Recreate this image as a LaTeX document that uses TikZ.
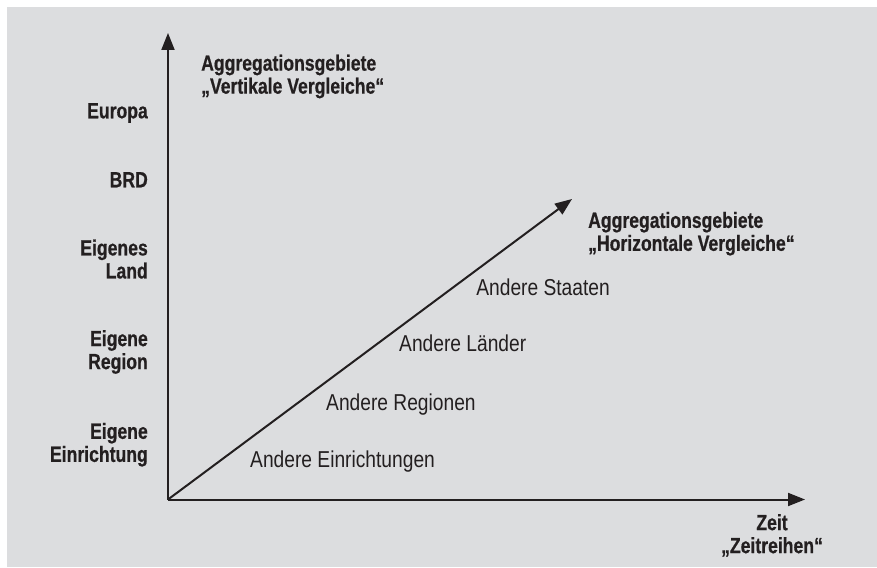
\documentclass[tikz,border=0pt]{standalone}
\usepackage{fontspec}
\setmainfont{Liberation Sans}[FakeStretch=0.835]
\newfontfamily\lblbold{Liberation Sans}[FakeStretch=0.80,BoldFeatures={FakeBold=0.6}]
\usetikzlibrary{arrows.meta}
\definecolor{bg}{HTML}{DCDDDF}
\definecolor{ink}{HTML}{231F20}
\begin{document}
\begin{tikzpicture}[x=1pt,y=-1pt,
  axis/.style={draw=ink,line width=2pt,-{Triangle[length=17pt,width=13pt]}},
  boldlbl/.style={inner sep=0pt,text=ink,font=\lblbold\fontsize{22}{23}\selectfont\bfseries},
  reglbl/.style={inner sep=0pt,text=ink,font=\fontsize{23}{24}\selectfont}]
\useasboundingbox (0,0) rectangle (877,567);
\fill[bg] (7,7) rectangle (877,567);
\coordinate (O) at (168,499.5);
\coordinate (Ytip) at (168,33);
\coordinate (Xtip) at (805,499.5);
\coordinate (Dtip) at (572,199);
\draw[axis] (O) -- (Ytip);
\draw[axis] (O) -- (Xtip);
\draw[axis] (O) -- (Dtip);
% vertical axis labels
\node[boldlbl,anchor=north west,align=left] (vtitle) at (201,54.5) {Aggregationsgebiete\\„Vertikale Vergleiche“};
\node[boldlbl,anchor=base east] (eu) at (148,118.3) {Europa};
\node[boldlbl,anchor=base east] (brd) at (148,187.3) {BRD};
\node[boldlbl,anchor=north east,align=right] (land) at (148,239.3) {Eigenes\\Land};
\node[boldlbl,anchor=north east,align=right] (reg) at (148,330) {Eigene\\Region};
\node[boldlbl,anchor=north east,align=right] (einr) at (148,422.7) {Eigene\\Einrichtung};
% diagonal labels
\node[boldlbl,anchor=north west,align=left] (htitle) at (588,211.7) {Aggregationsgebiete\\„Horizontale Vergleiche“};
\node[reglbl,anchor=base east] (st) at (610,295) {Andere Staaten};
\node[reglbl,anchor=base west] (la) at (399,351.7) {Andere Länder};
\node[reglbl,anchor=base west] (rg) at (326,410) {Andere Regionen};
\node[reglbl,anchor=base west] (ei) at (250,467) {Andere Einrichtungen};
% horizontal axis label
\node[boldlbl,anchor=north,align=center] (zeit) at (772,514) {Zeit\\„Zeitreihen“};
\end{tikzpicture}
\end{document}
